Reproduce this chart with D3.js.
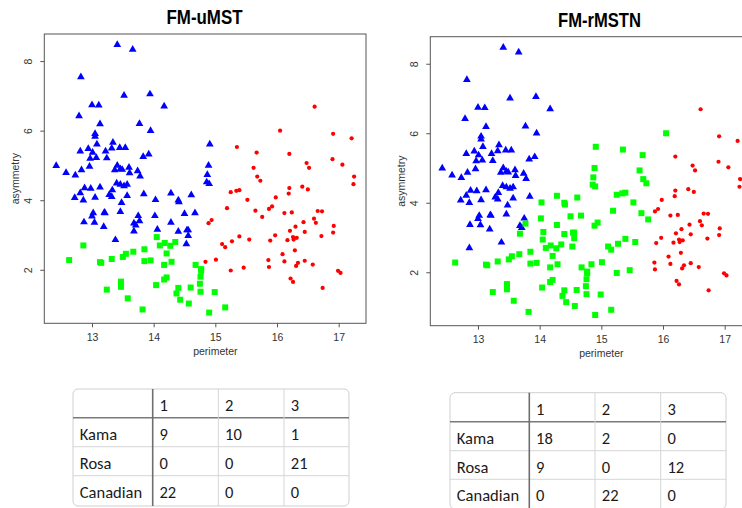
<!DOCTYPE html>
<html>
<head>
<meta charset="utf-8">
<script src="https://cdn.jsdelivr.net/npm/d3@7"></script>
<style>
  body { margin: 0; background: #fff; }
  svg { display: block; }
</style>
</head>
<body>
<svg id="chart" width="742" height="508"></svg>
<script>
// seeds: perimeter vs asymmetry, grouped by the FM-uMST cluster (1 = blue, 2 = green, 3 = red)
// rmstn* holds the cluster the same seed gets in FM-rMSTN
const perimeterC1 = [
  13.41, 13.66, 12.82, 13.52, 13.94, 13.00, 13.11, 14.17, 12.79, 13.13,
  13.77, 13.95, 13.05, 13.05, 13.34, 13.08, 12.81, 12.94, 13.01, 13.22,
  13.32, 13.45, 13.54, 12.97, 13.07, 13.24, 13.83, 13.92, 12.42, 12.58,
  12.73, 12.83, 12.96, 13.41, 13.37, 13.46, 13.49, 13.60, 13.61, 13.74,
  13.78, 13.40, 13.46, 13.52, 13.57, 12.88, 12.98, 13.13, 12.81, 13.33,
  12.72, 12.86, 13.05, 13.28, 13.32, 13.57, 13.48, 13.84, 13.02, 13.00,
  13.20, 13.21, 13.46, 12.87, 13.04, 13.19, 13.75, 13.68, 13.71, 13.38,
  13.77, 13.68, 14.03, 14.28, 14.40, 14.41, 14.61, 14.02, 14.06, 14.28,
  14.40, 14.50, 14.67, 14.54, 14.56, 14.56, 14.53, 14.87, 14.86, 14.90,
  14.89, 14.91
];
const asymmetryC1 = [
  8.47, 8.33, 7.54, 7.01, 7.05, 6.74, 6.73, 6.70, 6.42, 6.19,
  6.20, 6.00, 5.91, 5.83, 5.66, 5.61, 5.41, 5.48, 5.37, 5.41,
  5.49, 5.51, 5.51, 5.20, 5.22, 5.21, 5.25, 5.32, 4.99, 4.79,
  4.72, 4.87, 4.97, 5.00, 4.87, 4.90, 4.88, 4.94, 4.78, 4.84,
  4.69, 4.49, 4.45, 4.41, 4.45, 4.35, 4.34, 4.37, 4.21, 4.29,
  4.07, 4.00, 4.08, 4.16, 4.10, 4.13, 3.93, 4.18, 3.63, 3.54,
  3.65, 3.63, 3.67, 3.37, 3.36, 3.24, 3.55, 3.34, 3.28, 2.86,
  3.40, 3.11, 4.01, 4.20, 4.00, 3.95, 4.15, 3.55, 3.16, 3.36,
  3.10, 3.61, 3.63, 3.14, 3.14, 2.98, 2.74, 4.73, 4.52, 4.47,
  5.00, 5.61
];
const rmstnC1 = [
  1, 1, 1, 1, 1, 1, 1, 1, 1, 1,
  1, 1, 1, 1, 1, 1, 1, 1, 1, 1,
  1, 1, 1, 1, 1, 1, 1, 1, 1, 1,
  1, 1, 1, 1, 1, 1, 1, 1, 1, 1,
  1, 1, 1, 1, 1, 1, 1, 1, 1, 1,
  1, 1, 1, 1, 1, 1, 1, 1, 1, 1,
  1, 1, 1, 1, 1, 1, 1, 1, 1, 1,
  2, 2, 2, 2, 2, 2, 2, 2, 2, 2,
  2, 2, 2, 2, 2, 2, 2, 2, 2, 2,
  2, 2
];

const perimeterC2 = [
  14.05, 12.86, 14.18, 14.10, 14.27, 14.35, 13.85, 13.67, 13.55, 13.50,
  14.21, 12.63, 13.13, 13.15, 13.32, 13.85, 13.95, 14.29, 14.17, 14.68,
  14.77, 14.77, 14.76, 14.75, 14.76, 14.21, 14.17, 14.04, 14.40, 14.37,
  14.60, 14.43, 14.57, 13.47, 13.47, 13.24, 13.58, 13.82, 14.99, 15.16,
  14.90
];
const asymmetryC2 = [
  2.94, 2.70, 2.77, 2.70, 2.69, 2.80, 2.59, 2.52, 2.46, 2.37,
  2.47, 2.28, 2.22, 2.20, 2.31, 2.25, 2.27, 2.23, 2.14, 2.14,
  2.02, 1.97, 1.80, 1.60, 1.37, 1.78, 1.72, 1.56, 1.48, 1.32,
  1.49, 1.14, 1.03, 1.66, 1.51, 1.43, 1.18, 0.86, 1.36, 0.92,
  0.77
];
const rmstnC2 = [
  2, 1, 2, 2, 2, 2, 2, 2, 2, 2,
  2, 2, 2, 2, 2, 2, 2, 2, 2, 2,
  2, 2, 2, 2, 2, 2, 2, 2, 2, 2,
  2, 2, 2, 2, 2, 2, 2, 2, 2, 2,
  2
];

const perimeterC3 = [
  16.61, 16.05, 16.91, 17.21, 15.35, 15.67, 16.20, 16.48, 16.52, 16.90,
  17.06, 15.62, 15.68, 15.73, 17.25, 17.24, 15.25, 15.34, 15.39, 16.20,
  16.19, 16.41, 16.50, 15.52, 15.98, 15.19, 15.65, 15.87, 15.92, 15.76,
  16.12, 16.24, 16.66, 16.73, 16.60, 16.63, 16.43, 14.94, 14.89, 16.30,
  16.21, 16.45, 16.92, 16.91, 16.72, 15.39, 15.55, 15.27, 15.89, 15.97,
  16.17, 16.26, 16.27, 16.32, 15.11, 15.16, 16.29, 16.09, 14.84, 15.01,
  15.86, 16.12, 16.34, 16.31, 16.45, 16.58, 15.25, 15.46, 15.87, 16.99,
  17.03, 16.22, 16.26, 16.74
];
const asymmetryC3 = [
  6.69, 6.00, 5.91, 5.78, 5.53, 5.37, 5.33, 5.07, 4.93, 5.18,
  5.02, 4.93, 4.68, 4.56, 4.68, 4.46, 4.23, 4.27, 4.29, 4.35,
  4.19, 4.39, 4.31, 4.01, 4.08, 3.77, 3.70, 3.75, 3.82, 3.52,
  3.63, 3.65, 3.69, 3.68, 3.47, 3.35, 3.37, 3.43, 3.34, 3.24,
  3.12, 3.09, 3.26, 3.07, 2.97, 2.96, 2.87, 2.82, 2.84, 2.99,
  2.85, 2.94, 2.87, 2.92, 2.74, 2.65, 2.56, 2.45, 2.23, 2.29,
  2.28, 2.24, 2.20, 2.11, 2.26, 2.15, 1.98, 2.06, 2.08, 1.97,
  1.91, 1.75, 1.65, 1.48
];
const rmstnC3 = [
  3, 2, 3, 3, 2, 2, 3, 3, 3, 3,
  3, 2, 2, 2, 3, 3, 2, 2, 2, 3,
  3, 3, 3, 2, 3, 2, 2, 3, 3, 2,
  3, 3, 3, 3, 3, 3, 3, 2, 2, 3,
  3, 3, 3, 3, 3, 2, 2, 2, 3, 3,
  3, 3, 3, 3, 2, 2, 3, 3, 2, 2,
  3, 3, 3, 3, 3, 3, 2, 2, 3, 3,
  3, 3, 3, 3
];

const xTicks = [13, 14, 15, 16, 17];
const yTicks = [2, 4, 6, 8];

// confusion tables
const rowLabels = ["Kama", "Rosa", "Canadian"];
const colLabels = ["1", "2", "3"];
const tableUMST = [[9, 10, 1], [0, 0, 21], [22, 0, 0]];
const tableRMSTN = [[18, 2, 0], [9, 0, 12], [0, 22, 0]];

// put the groups together
const seeds = [];
[[perimeterC1, asymmetryC1, rmstnC1, 1],
 [perimeterC2, asymmetryC2, rmstnC2, 2],
 [perimeterC3, asymmetryC3, rmstnC3, 3]].forEach(([ps, as, rs, u]) => {
  ps.forEach((p, i) => seeds.push({ p: p, a: as[i], u: u, r: rs[i] }));
});

const svg = d3.select('#chart');
const axisColor = '#555';
const textColor = '#333';

const colors = { 1: '#0000ff', 2: '#00ff00', 3: '#ff0000' };
const shapes = { 1: d3.symbolTriangle, 2: d3.symbolSquare, 3: d3.symbolCircle };
const sizes = { 1: 26, 2: 36, 3: 14 };

// R style range: data extent plus 4% each side
function padded(ext) {
  const d = (ext[1] - ext[0]) * 0.04;
  return [ext[0] - d, ext[1] + d];
}
const xDomain = padded(d3.extent(seeds, d => d.p));
const yDomain = padded(d3.extent(seeds, d => d.a));

const panels = [
  { title: 'FM-uMST', key: 'u', left: 44.3, top: 34, right: 366, bottom: 323.3, titleX: 204.5, titleY: 23.5, titleW: 76 },
  { title: 'FM-rMSTN', key: 'r', left: 430.3, top: 36.7, right: 752, bottom: 325.7, titleX: 599.5, titleY: 26.5, titleW: 83 }
];

panels.forEach(pn => {
  const g = svg.append('g');
  const x = d3.scaleLinear().domain(xDomain).range([pn.left, pn.right]);
  const y = d3.scaleLinear().domain(yDomain).range([pn.bottom, pn.top]);

  // title
  g.append('text')
    .attr('x', pn.titleX)
    .attr('y', pn.titleY)
    .attr('text-anchor', 'middle')
    .attr('font-family', 'Liberation Sans, Arial, sans-serif')
    .attr('font-weight', 'bold')
    .attr('font-size', 20.5)
    .attr('textLength', pn.titleW)
    .attr('lengthAdjust', 'spacingAndGlyphs')
    .attr('fill', '#000')
    .text(pn.title);

  // points
  g.selectAll('path.pt')
    .data(seeds)
    .enter().append('path')
    .attr('class', 'pt')
    .attr('transform', d => `translate(${x(d.p)},${y(d.a)})`)
    .attr('d', d => d3.symbol().type(shapes[d[pn.key]]).size(sizes[d[pn.key]])())
    .attr('fill', d => colors[d[pn.key]]);

  // box
  g.append('rect')
    .attr('x', pn.left)
    .attr('y', pn.top)
    .attr('width', pn.right - pn.left)
    .attr('height', pn.bottom - pn.top)
    .attr('fill', 'none')
    .attr('stroke', axisColor)
    .attr('stroke-width', 1);

  // x axis
  const xa = g.append('g')
    .attr('transform', `translate(0,${pn.bottom})`)
    .call(d3.axisBottom(x).tickValues(xTicks).tickFormat(d3.format('d'))
      .tickSize(4).tickSizeOuter(0).tickPadding(6));
  xa.select('.domain').remove();
  xa.selectAll('line').attr('stroke', axisColor);
  xa.selectAll('text')
    .attr('font-family', 'Liberation Sans, Arial, sans-serif')
    .attr('font-size', 10.5)
    .attr('fill', textColor);

  // y axis, labels turned like R
  const ya = g.append('g')
    .attr('transform', `translate(${pn.left},0)`)
    .call(d3.axisLeft(y).tickValues(yTicks).tickFormat(d3.format('d')).tickSize(4).tickSizeOuter(0));
  ya.select('.domain').remove();
  ya.selectAll('line').attr('stroke', axisColor);
  ya.selectAll('text')
    .attr('x', null)
    .attr('dy', null)
    .attr('transform', 'translate(-12,0) rotate(-90)')
    .attr('text-anchor', 'middle')
    .attr('font-family', 'Liberation Sans, Arial, sans-serif')
    .attr('font-size', 10.5)
    .attr('fill', textColor);

  // axis titles
  g.append('text')
    .attr('x', (x(13) + x(17)) / 2)
    .attr('y', pn.bottom + 31.5)
    .attr('text-anchor', 'middle')
    .attr('font-family', 'Liberation Sans, Arial, sans-serif')
    .attr('font-size', 10.5)
    .attr('fill', textColor)
    .text('perimeter');

  g.append('text')
    .attr('transform', `translate(${pn.left - 25.5},${(pn.top + pn.bottom) / 2}) rotate(-90)`)
    .attr('text-anchor', 'middle')
    .attr('font-family', 'Liberation Sans, Arial, sans-serif')
    .attr('font-size', 10.5)
    .attr('fill', textColor)
    .text('asymmetry');
});

// tables under the plots
function drawTable(counts, cols, rows) {
  const g = svg.append('g');
  const x0 = cols[0], x1 = cols[cols.length - 1];
  const y0 = rows[0], y1 = rows[rows.length - 1];

  g.append('rect')
    .attr('x', x0).attr('y', y0)
    .attr('width', x1 - x0).attr('height', y1 - y0)
    .attr('rx', 5)
    .attr('fill', '#fff')
    .attr('stroke', '#cfcfcf');

  rows.slice(1, -1).forEach((ry, i) => {
    g.append('line')
      .attr('x1', x0).attr('x2', x1).attr('y1', ry).attr('y2', ry)
      .attr('stroke', i === 0 ? '#7a7a7a' : '#d6d6d6')
      .attr('stroke-width', i === 0 ? 1.6 : 1);
  });
  cols.slice(1, -1).forEach((cx, i) => {
    g.append('line')
      .attr('x1', cx).attr('x2', cx).attr('y1', y0).attr('y2', y1)
      .attr('stroke', i === 0 ? '#6e6e6e' : '#d6d6d6')
      .attr('stroke-width', i === 0 ? 1.6 : 1);
  });

  const cells = [];
  colLabels.forEach((c, j) => cells.push({ t: c, r: 0, c: j + 1 }));
  rowLabels.forEach((lab, i) => {
    cells.push({ t: lab, r: i + 1, c: 0 });
    counts[i].forEach((v, j) => cells.push({ t: String(v), r: i + 1, c: j + 1 }));
  });

  g.selectAll('text.cell')
    .data(cells)
    .enter().append('text')
    .attr('class', 'cell')
    .attr('x', d => cols[d.c] + 6.8)
    .attr('y', d => rows[d.r] + 21.8)
    .attr('font-family', 'Carlito, Lato, sans-serif')
    .attr('font-size', 16.5)
    .attr('fill', '#1a1a1a')
    .text(d => d.t);
}

drawTable(tableUMST, [73, 152.7, 218.3, 284, 349], [389, 417.7, 446.7, 475.7, 506]);
drawTable(tableRMSTN, [450, 529.3, 595, 660.7, 726], [392.7, 421.7, 450.7, 479.3, 509]);
</script>
</body>
</html>
